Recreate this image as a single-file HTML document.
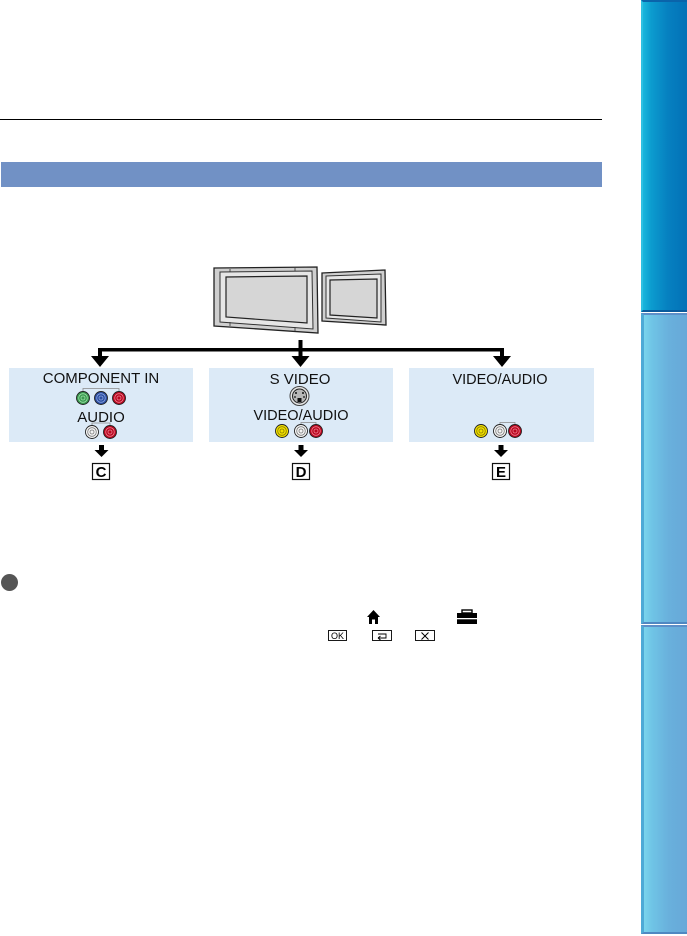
<!DOCTYPE html>
<html>
<head>
<meta charset="utf-8">
<style>
  html, body { margin:0; padding:0; background:#fff; }
  body { width:687px; height:936px; position:relative; overflow:hidden; font-family:"Liberation Sans", Arial, sans-serif; }
  .tab { position:absolute; left:641px; width:46px; box-sizing:border-box; }
  .t1 { top:0; height:312px; background:linear-gradient(to right,#19b6dc 0px,#0c9ccf 8px,#0680c0 25px,#0370b6 46px); border-left:2px solid #2fc0e2; border-bottom:2px solid #0a5a9c; border-top:2px solid #0a64aa; }
  .t2 { top:313px; height:311px; background:linear-gradient(to right,#7ad4ec 0px,#6fc4e6 8px,#69b0dc 25px,#67a7d8 46px); border-left:3px solid #4eaad6; border-top:2px solid #5c8fc8; border-bottom:2px solid #4f88c2; }
  .t3 { top:625px; height:309px; background:linear-gradient(to right,#7ad4ec 0px,#6fc4e6 8px,#69b0dc 25px,#67a7d8 46px); border-left:3px solid #4eaad6; border-top:2px solid #5c8fc8; border-bottom:2px solid #4f88c2; }
</style>
</head>
<body>
<div class="tab t1"></div>
<div class="tab t2"></div>
<div class="tab t3"></div>

<svg width="687" height="936" viewBox="0 0 687 936" xmlns="http://www.w3.org/2000/svg" style="position:absolute;left:0;top:0;">
  <!-- top rule -->
  <rect x="0" y="119" width="602" height="1" fill="#000"/>
  <!-- blue header bar -->
  <rect x="1" y="162" width="601" height="25" fill="#7191c5"/>

  <!-- Large TV -->
  <polygon points="214,268 317,267 318,333 214,326" fill="#cfcfcf" stroke="#222" stroke-width="1.3"/>
  <polygon points="220,272 312,271 313,329 220,322" fill="#e6e6e6" stroke="#333" stroke-width="1"/>
  <polygon points="226,277 307,276 307,323 226,317" fill="#d6d6d6" stroke="#222" stroke-width="1.2"/>
  <line x1="230" y1="269" x2="230" y2="272" stroke="#333" stroke-width="0.8"/>
  <line x1="295" y1="268" x2="295" y2="271" stroke="#333" stroke-width="0.8"/>
  <line x1="230" y1="322" x2="230" y2="326" stroke="#333" stroke-width="0.8"/>
  <line x1="295" y1="327" x2="295" y2="331" stroke="#333" stroke-width="0.8"/>

  <!-- Small TV -->
  <polygon points="322,273 385,270 386,325 322,321" fill="#cfcfcf" stroke="#222" stroke-width="1.3"/>
  <polygon points="326,276 381,274 381,322 326,318" fill="#e6e6e6" stroke="#333" stroke-width="1"/>
  <polygon points="330,280 377,279 377,318 330,315" fill="#d6d6d6" stroke="#222" stroke-width="1.2"/>

  <!-- connectors -->
  <rect x="298.5" y="340" width="4" height="16" fill="#000"/>
  <rect x="98" y="348" width="406" height="3.5" fill="#000"/>
  <rect x="98" y="348" width="4" height="9" fill="#000"/>
  <rect x="500" y="348" width="4" height="9" fill="#000"/>
  <polygon points="91,356 109,356 100,367" fill="#000"/>
  <polygon points="291.5,356 309.5,356 300.5,367" fill="#000"/>
  <polygon points="493,356 511,356 502,367" fill="#000"/>

  <!-- boxes -->
  <rect x="9" y="368" width="184" height="74" fill="#dceaf7"/>
  <rect x="209" y="368" width="184" height="74" fill="#dceaf7"/>
  <rect x="409" y="368" width="185" height="74" fill="#dceaf7"/>

  <g font-family="Liberation Sans, Arial, sans-serif" font-size="15" fill="#111" text-anchor="middle">
    <text x="101" y="383">COMPONENT IN</text>
    <text x="101" y="422">AUDIO</text>
    <text x="300" y="384">S VIDEO</text>
    <text x="301" y="420" font-size="14.5">VIDEO/AUDIO</text>
    <text x="500" y="384" font-size="14.5">VIDEO/AUDIO</text>
  </g>

  <!-- brackets -->
  <g stroke="#888" stroke-width="0.8" fill="none">
    <polyline points="83,392 83,388.5 119,388.5 119,392"/>
    <polyline points="92,426 92,423 110,423 110,426"/>
    <polyline points="301,425 301,422.5 316,422.5 316,425"/>
    <polyline points="500,425 500,422.5 515,422.5 515,425"/>
  </g>

  <!-- RCA jacks -->
  <defs>
    <g id="jack">
      <circle r="6.5" stroke="#222" stroke-width="0.9"/>
      <circle r="4.3" fill="none" stroke-width="0.8"/>
      <circle r="2" fill="none" stroke-width="0.8"/>
    </g>
  </defs>
  <!-- component -->
  <use href="#jack" x="83" y="398" fill="#3a9a50" stroke="#9fe0a8"/>
  <use href="#jack" x="101" y="398" fill="#2b4ea3" stroke="#8fa8e0"/>
  <use href="#jack" x="119" y="398" fill="#b8061f" stroke="#f08090"/>
  <!-- audio -->
  <use href="#jack" x="92" y="432" fill="#f4f4f4" stroke="#777"/>
  <use href="#jack" x="110" y="432" fill="#b8061f" stroke="#f08090"/>
  <!-- box 2 -->
  <use href="#jack" x="282" y="431" fill="#f0e000" stroke="#8a7a00"/>
  <use href="#jack" x="301" y="431" fill="#f4f4f4" stroke="#777"/>
  <use href="#jack" x="316" y="431" fill="#b8061f" stroke="#f08090"/>
  <!-- box 3 -->
  <use href="#jack" x="481" y="431" fill="#f0e000" stroke="#8a7a00"/>
  <use href="#jack" x="500" y="431" fill="#f4f4f4" stroke="#777"/>
  <use href="#jack" x="515" y="431" fill="#b8061f" stroke="#f08090"/>

  <!-- S video jack -->
  <circle cx="299.5" cy="396" r="9.5" fill="#e4e4e4" stroke="#444" stroke-width="1"/>
  <circle cx="299.5" cy="396" r="7" fill="#b8b8b8" stroke="#222" stroke-width="1"/>
  <rect x="297.5" y="398" width="4" height="4" fill="#111"/>
  <circle cx="296" cy="393" r="1" fill="#111"/>
  <circle cx="303" cy="393" r="1" fill="#111"/>
  <circle cx="295" cy="397" r="0.9" fill="#111"/>
  <circle cx="304" cy="397" r="0.9" fill="#111"/>

  <!-- lower arrows -->
  <g fill="#000">
    <rect x="99" y="445" width="5" height="6"/>
    <polygon points="94.5,450 108.5,450 101.5,457"/>
    <rect x="298.5" y="445" width="5" height="6"/>
    <polygon points="294,450 308,450 301,457"/>
    <rect x="498.5" y="445" width="5" height="6"/>
    <polygon points="494,450 508,450 501,457"/>
  </g>

  <!-- letter boxes -->
  <g fill="#fff" stroke="#111" stroke-width="1.2">
    <rect x="92.5" y="463.5" width="17" height="16"/>
    <rect x="292.5" y="463.5" width="17" height="16"/>
    <rect x="492.5" y="463.5" width="17" height="16"/>
  </g>
  <g font-family="Liberation Sans, Arial, sans-serif" font-size="15" font-weight="bold" fill="#000" text-anchor="middle">
    <text x="101" y="477">C</text>
    <text x="301" y="477">D</text>
    <text x="501" y="477">E</text>
  </g>

  <!-- bullet -->
  <circle cx="9.5" cy="582.5" r="8.5" fill="#555"/>

  <!-- home icon -->
  <polygon points="373.5,610 367,617 369,617 369,624 372,624 372,619.5 375,619.5 375,624 378,624 378,617 380,617" fill="#000"/>
  <!-- toolbox icon -->
  <rect x="462" y="610" width="10" height="3" fill="none" stroke="#000" stroke-width="1.4"/>
  <rect x="457" y="613" width="20" height="11" fill="#000"/>
  <rect x="457" y="618" width="20" height="1.3" fill="#fff"/>

  <!-- OK / return / X boxes -->
  <g fill="none" stroke="#000" stroke-width="0.9">
    <rect x="328.5" y="630.5" width="18" height="10"/>
    <rect x="372.5" y="630.5" width="19" height="10"/>
    <rect x="415.5" y="630.5" width="19" height="10"/>
  </g>
  <text x="337.5" y="639" font-family="Liberation Sans, Arial, sans-serif" font-size="9" text-anchor="middle" fill="#000">OK</text>
  <path d="M378 634 H386 V638 H378 M378 638 L380.5 636 M378 638 L380.5 640" fill="none" stroke="#000" stroke-width="0.9"/>
  <path d="M421.5 632.5 L428.5 639.5 M428.5 632.5 L421.5 639.5" fill="none" stroke="#000" stroke-width="1"/>
</svg>
</body>
</html>
